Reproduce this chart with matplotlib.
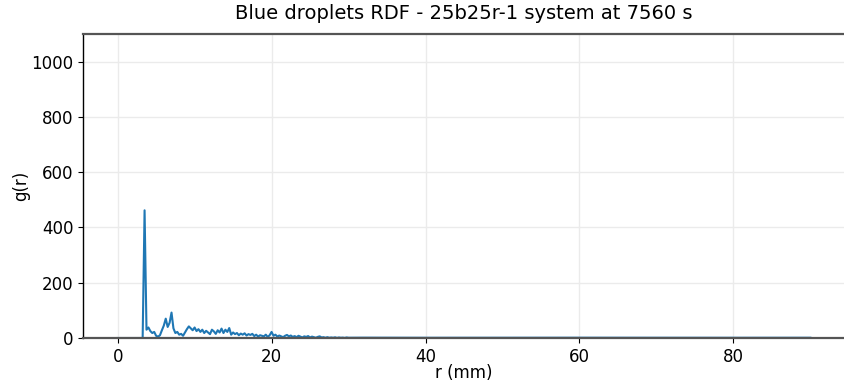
import numpy as np
import matplotlib
matplotlib.use("Agg")
import matplotlib.pyplot as plt

# Radial distribution function of blue droplets (25b25r-1, t = 7560 s)
title = "Blue droplets RDF - 25b25r-1 system at 7560 s"
bin_start = 3.25   # mm, first non-empty bin
bin_width = 0.25   # mm

# g(r) for the structured region, one value per bin starting at bin_start
g_near = [
    0, 462, 30, 38, 25, 18, 22, 8, 5, 10, 28, 45, 70, 40, 55, 92, 35, 18, 22, 12,
    15, 8, 20, 32, 42, 35, 28, 38, 25, 32, 22, 30, 18, 26, 20, 14, 30, 24, 15, 28,
    20, 34, 18, 30, 22, 36, 12, 20, 14, 18, 10, 16, 12, 17, 9, 14, 11, 15, 7, 12,
    5, 10, 8, 6, 12, 4, 10, 22, 8, 12, 5, 9, 6, 3, 8, 11, 6, 9, 4, 7,
    3, 8, 5, 2, 6, 4, 7, 2, 5, 3, 1, 4, 6, 2, 3, 1, 3, 1, 2, 1,
    2.5, 0.5, 2, 1, 1.5, 0.5, 2, 1,
]

# empty bins before contact distance and the flat tail at large r
r_head = [0.0, 3.0]
g_head = [0.0, 0.0]
r_tail = [32.0, 40.0, 50.0, 60.0, 70.0, 80.0, 90.0]
g_tail = [1.2, 0.9, 1.0, 1.1, 1.0, 0.9, 1.0]

r_near = bin_start + bin_width * np.arange(len(g_near))
r = np.concatenate([r_head, r_near, r_tail])
g = np.concatenate([g_head, g_near, g_tail])

fig = plt.figure(figsize=(8.45, 3.83), dpi=100)
ax = fig.add_axes([83 / 845, 45 / 383, 762 / 845, 304 / 383])

ax.plot(r, g, color="#1f77b4", linewidth=1.5)

ax.set_xlim(-4.5, 94.5)
ax.set_ylim(0, 1100)
ax.set_xticks([0, 20, 40, 60, 80])
ax.set_yticks([0, 200, 400, 600, 800, 1000])
ax.grid(True, color="#ebebeb", linewidth=1.0)
ax.set_axisbelow(True)

ax.set_title(title, fontsize=14, pad=11)
ax.set_xlabel("r (mm)", fontsize=12, labelpad=-1)
ax.set_ylabel("g(r)", fontsize=12, labelpad=1)
ax.tick_params(labelsize=12)

ax.spines["top"].set_color("#555555")
ax.spines["top"].set_linewidth(1.6)
ax.spines["bottom"].set_color("#555555")
ax.spines["bottom"].set_linewidth(1.6)
ax.spines["left"].set_color("black")
ax.spines["left"].set_linewidth(1.0)
ax.spines["right"].set_visible(False)

fig.savefig("out.png", dpi=100)
